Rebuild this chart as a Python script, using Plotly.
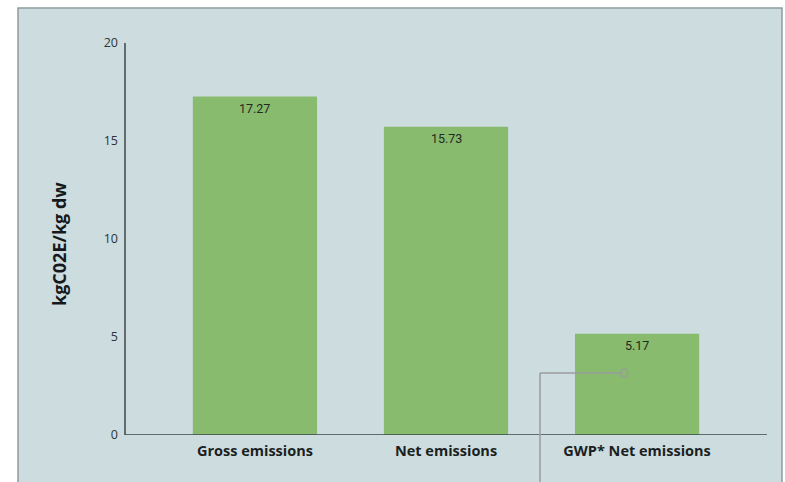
import plotly.graph_objects as go

# Emission intensity per kg of dressed weight
categories = ["Gross emissions", "Net emissions", "GWP* Net emissions"]
values = [17.27, 15.73, 5.17]
y_ticks = [0, 5, 10, 15, 20]

panel_bg = "#cddcdf"
bar_green = "#88bb6e"
axis_col = "#3e474a"

fig = go.Figure()
fig.add_trace(go.Bar(
    x=categories,
    y=values,
    width=0.65,
    marker=dict(color=bar_green, line=dict(width=0)),
    hoverinfo="x+y",
))

W, H = 785, 482
ml, mr, mt, mb = 125, 18, 43, 47
pw = W - ml - mr
ph = H - mt - mb


def px_x(p):
    return (p - ml) / pw


def px_y(p):
    return (H - mb - p) / ph


shapes = [
    # framed panel behind the chart
    dict(type="rect", xref="paper", yref="paper",
         x0=px_x(18), x1=px_x(782), y0=px_y(500), y1=px_y(8),
         fillcolor=panel_bg, line=dict(color="#8e9c9e", width=1.5),
         layer="below"),
    # y-axis line from 0 to 20
    dict(type="line", xref="paper", yref="y", x0=0, x1=0, y0=0, y1=20,
         line=dict(color=axis_col, width=1.5)),
    # x-axis baseline
    dict(type="line", xref="paper", yref="y", x0=0, x1=1, y0=0, y1=0,
         line=dict(color=axis_col, width=1.5)),
]

# callout pointer attached to the third bar
cx_end = 2 - 0.068
cx_corner = 2 - 0.508
cy = 3.16 / 20
shapes += [
    dict(type="line", xref="x", yref="paper", x0=cx_corner, x1=cx_end, y0=cy, y1=cy,
         line=dict(color="#9a9d9d", width=1.5)),
    dict(type="line", xref="x", yref="paper", x0=cx_corner, x1=cx_corner, y0=cy, y1=-0.2,
         line=dict(color="#9a9d9d", width=1.5)),
    dict(type="circle", xref="x", yref="paper",
         x0=cx_end - 0.02, x1=cx_end + 0.02, y0=cy - 0.0095, y1=cy + 0.0095,
         fillcolor=bar_green, line=dict(color="#9a9d9d", width=1.5)),
]

# value labels just inside the top of each bar
annotations = [
    dict(x=c, y=v, xref="x", yref="y", text=f"{v:.2f}", showarrow=False,
         yanchor="middle", yshift=-12,
         font=dict(family="Roboto", size=12.5, color="#1f2a22"))
    for c, v in zip(categories, values)
]
annotations.append(dict(
    text="<b>kgC02E/kg dw</b>", xref="paper", yref="paper",
    x=px_x(45), y=px_y(244), textangle=-90, showarrow=False,
    font=dict(family="Open Sans", size=18, color="#15191b"),
))

fig.update_layout(
    width=W, height=H,
    margin=dict(l=ml, r=mr, t=mt, b=mb),
    paper_bgcolor="white",
    plot_bgcolor=panel_bg,
    showlegend=False,
    font=dict(family="Open Sans", color="#2b3336"),
    shapes=shapes,
    annotations=annotations,
    xaxis=dict(
        type="category", range=[-0.68, 2.68], showline=False, showgrid=False,
        ticks="", ticklabelstandoff=5,
        tickfont=dict(family="Open Sans", size=14.5, color="#1b1f21", weight="bold"),
        fixedrange=True,
    ),
    yaxis=dict(
        range=[0, 20], tickvals=y_ticks, showline=False, showgrid=False,
        zeroline=False, ticks="", ticklabelstandoff=6,
        tickfont=dict(family="Open Sans", size=12.5, color="#2b3336"),
        fixedrange=True,
    ),
)

fig.write_html("out.html")
